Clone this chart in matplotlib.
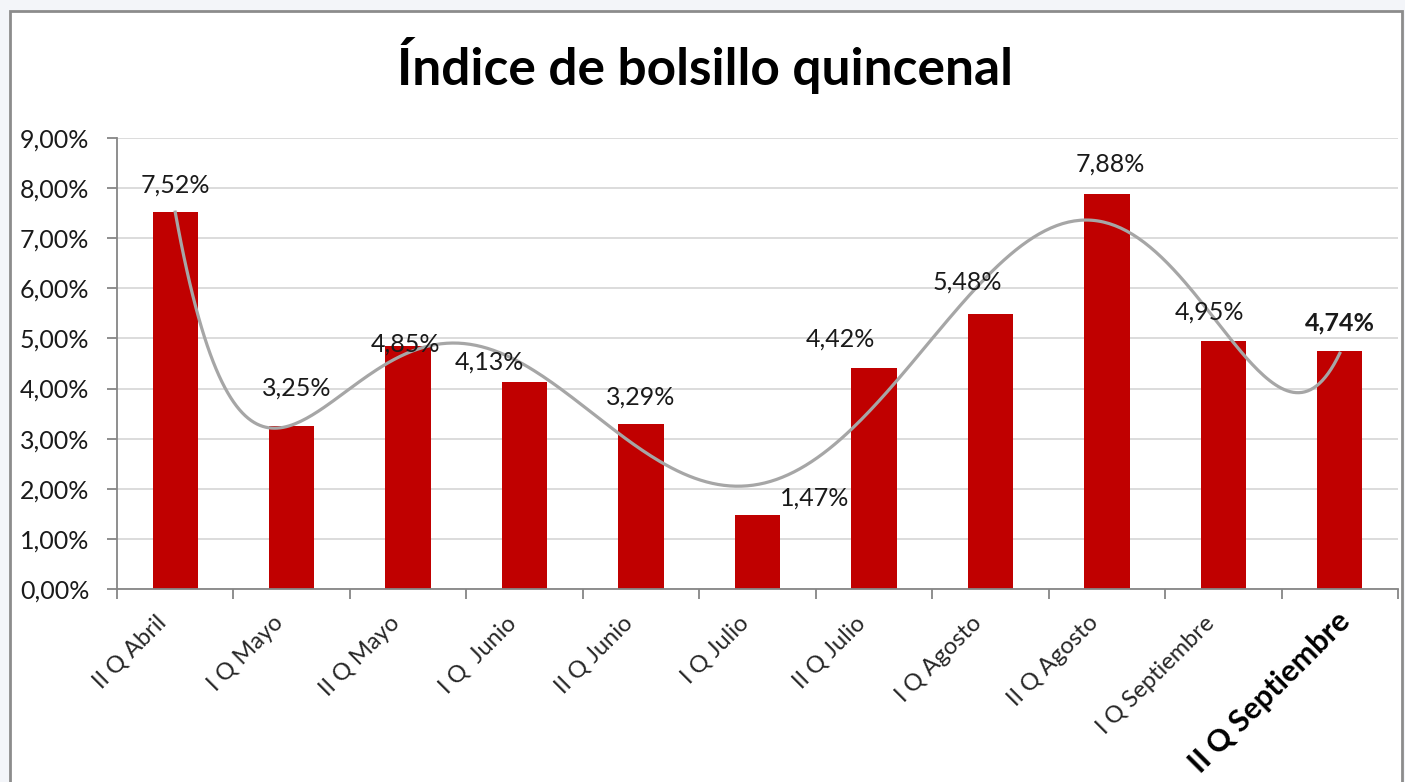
import matplotlib.pyplot as plt
import numpy as np
from matplotlib.patches import Rectangle
from matplotlib.transforms import ScaledTranslation

plt.rcParams['font.family'] = ['Lato', 'DejaVu Sans']

categorias = ['II Q Abril', 'I Q Mayo', 'II Q Mayo', 'I Q  Junio', 'II Q Junio',
              'I Q Julio', 'II Q Julio', 'I Q Agosto', 'II Q Agosto',
              'I Q Septiembre', 'II Q Septiembre']
valores = [7.52, 3.25, 4.85, 4.13, 3.29, 1.47, 4.42, 5.48, 7.88, 4.95, 4.74]
yticks = np.arange(0, 10)

# label offsets in pixels (Excel placed some of them by hand)
offs = [(0, 27), (5, 38), (-3, 2), (-35, 20), (0, 27), (57, 17),
        (-34, 28), (-23, 32), (3, 30), (-14, 29), (0, 29)]

fig = plt.figure(figsize=(14.05, 7.82), dpi=100, facecolor='#F3F5F9')
fig.patches.append(Rectangle((10/1405, -0.05), 1392/1405, 1.05 - 11/782,
                             transform=fig.transFigure, facecolor='white',
                             edgecolor='#8C8C8C', linewidth=2, zorder=-5))

ax = fig.add_axes([117/1405, 193/782, 1281/1405, 451/782])
ax.set_facecolor('none')
x = np.arange(len(valores))
ax.bar(x, valores, width=0.39, color='#C00000', zorder=2)

# Excel polynomial trendline (order 6)
coef = np.polyfit(x, valores, 6)
xs = np.linspace(0, len(valores) - 1, 400)
ax.plot(xs, np.polyval(coef, xs), color='#A6A6A6', linewidth=2.3, zorder=3)

for i, v in enumerate(valores):
    last = i == len(valores) - 1
    ax.annotate(f'{v:.2f}%'.replace('.', ','), (i, v), xytext=offs[i],
                textcoords='offset pixels', ha='center', va='center',
                fontsize=18, color='#1a1a1a', fontweight='bold' if last else 'normal',
                zorder=4)

ax.set_xlim(-0.5, len(valores) - 0.5)
ax.set_ylim(0, 9)
ax.set_yticks(yticks)
ax.set_yticklabels([f'{t:.2f}%'.replace('.', ',') for t in yticks], fontsize=18,
                   color='#1a1a1a')
ax.set_xticks(x)
ax.set_xticklabels(categorias)
ax.set_xticks(np.arange(-0.5, len(valores)), minor=True)
ax.tick_params(axis='x', which='major', length=0, pad=22)
ax.tick_params(axis='x', which='minor', length=7, color='#868686', width=1.3)
ax.tick_params(axis='y', length=7, color='#868686', width=1.3, pad=13)
for i, lab in enumerate(ax.get_xticklabels()):
    lab.set_rotation(45)
    lab.set_ha('right')
    lab.set_va('center')
    lab.set_rotation_mode('anchor')
    lab.set_fontsize(17)
    lab.set_color('#262626')
    dx, dy = -0.12, 0
    if i == len(valores) - 1:
        lab.set_fontsize(22)
        lab.set_fontweight('bold')
        lab.set_color('black')
        dx, dy = 0.06, 0.03
    lab.set_transform(lab.get_transform() + ScaledTranslation(dx, dy, fig.dpi_scale_trans))

ax.grid(axis='y', color='#D9D9D9', linewidth=1.3, zorder=0)
ax.set_axisbelow(True)
for s in ['top', 'right']:
    ax.spines[s].set_visible(False)
for s in ['left', 'bottom']:
    ax.spines[s].set_color('#868686')
    ax.spines[s].set_linewidth(1.3)

fig.text(705/1405, 1 - 65/782, 'Índice de bolsillo quincenal', ha='center',
         va='center', fontsize=37, fontweight='bold')

plt.savefig('out.png', dpi=100, facecolor=fig.get_facecolor())
